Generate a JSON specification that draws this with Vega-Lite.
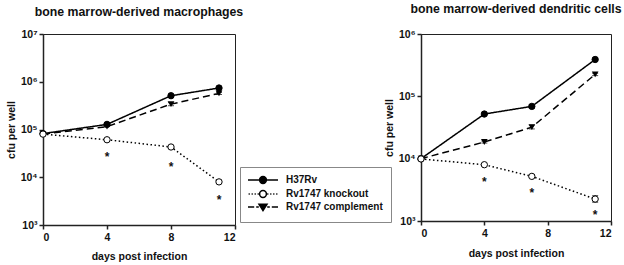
{
  "$schema": "https://vega.github.io/schema/vega-lite/v6.json",
  "padding": {"left": 5, "top": 2, "right": 3, "bottom": 2},
  "background": "white",
  "bounds": "flush",
  "spacing": 186,
  "resolve": {"legend": {"fill": "independent", "shape": "independent", "stroke": "independent"}},
  "config": {
    "font": "Liberation Sans",
    "view": {"stroke": "#222", "strokeWidth": 1},
    "axis": {
      "grid": false,
      "domainColor": "#222", "domainWidth": 1.5,
      "tickColor": "#222", "tickWidth": 1.5, "tickSize": 4,
      "labelFont": "Liberation Sans", "labelFontWeight": "bold", "labelColor": "#111", "labelFontSize": 10.5,
      "titleFont": "Liberation Sans", "titleFontWeight": "bold", "titleColor": "#111", "titleFontSize": 10.5
    },
    "title": {"font": "Liberation Sans", "fontWeight": "bold", "fontSize": 12.3, "color": "#111", "anchor": "middle"}
  },
  "datasets": {
    "growth": [
      {"panel": "macrophages", "series": "H37Rv", "day": 0, "value": 82000},
      {"panel": "macrophages", "series": "H37Rv", "day": 4, "value": 128000},
      {"panel": "macrophages", "series": "H37Rv", "day": 8, "value": 510000},
      {"panel": "macrophages", "series": "H37Rv", "day": 11, "value": 740000, "lo": 700000, "hi": 780000},
      {"panel": "macrophages", "series": "Rv1747 complement", "day": 0, "value": 80000},
      {"panel": "macrophages", "series": "Rv1747 complement", "day": 4, "value": 115000},
      {"panel": "macrophages", "series": "Rv1747 complement", "day": 8, "value": 340000, "lo": 315000, "hi": 365000},
      {"panel": "macrophages", "series": "Rv1747 complement", "day": 11, "value": 570000, "lo": 540000, "hi": 600000},
      {"panel": "macrophages", "series": "Rv1747 knockout", "day": 0, "value": 80000},
      {"panel": "macrophages", "series": "Rv1747 knockout", "day": 4, "value": 61000},
      {"panel": "macrophages", "series": "Rv1747 knockout", "day": 8, "value": 43000, "lo": 40000, "hi": 46000},
      {"panel": "macrophages", "series": "Rv1747 knockout", "day": 11, "value": 8000, "lo": 7400, "hi": 8700},
      {"panel": "dendritic", "series": "H37Rv", "day": 0, "value": 10000},
      {"panel": "dendritic", "series": "H37Rv", "day": 4, "value": 52000},
      {"panel": "dendritic", "series": "H37Rv", "day": 7, "value": 69000, "lo": 65000, "hi": 73000},
      {"panel": "dendritic", "series": "H37Rv", "day": 11, "value": 390000},
      {"panel": "dendritic", "series": "Rv1747 complement", "day": 0, "value": 10000},
      {"panel": "dendritic", "series": "Rv1747 complement", "day": 4, "value": 18500, "lo": 17800, "hi": 19200},
      {"panel": "dendritic", "series": "Rv1747 complement", "day": 7, "value": 32000, "lo": 30000, "hi": 34500},
      {"panel": "dendritic", "series": "Rv1747 complement", "day": 11, "value": 225000, "lo": 215000, "hi": 235000},
      {"panel": "dendritic", "series": "Rv1747 knockout", "day": 0, "value": 9900},
      {"panel": "dendritic", "series": "Rv1747 knockout", "day": 4, "value": 8000},
      {"panel": "dendritic", "series": "Rv1747 knockout", "day": 7, "value": 5200, "lo": 5000, "hi": 5450},
      {"panel": "dendritic", "series": "Rv1747 knockout", "day": 11, "value": 2250, "lo": 2000, "hi": 2550}
    ],
    "stars": [
      {"panel": "macrophages", "day": 4, "value": 31000},
      {"panel": "macrophages", "day": 8, "value": 18600},
      {"panel": "macrophages", "day": 11, "value": 3900},
      {"panel": "dendritic", "day": 4, "value": 4800},
      {"panel": "dendritic", "day": 7, "value": 3100},
      {"panel": "dendritic", "day": 11, "value": 1380}
    ]
  },
  "hconcat": [
    {
      "width": 192,
      "height": 191,
      "title": {"text": "bone marrow-derived macrophages", "offset": 11},
      "layer": [
        {
          "data": {"name": "growth"},
          "transform": [{"filter": "datum.panel === 'macrophages'"}],
          "mark": {"type": "line", "stroke": "black", "strokeWidth": 1.5},
          "encoding": {
            "x": {"field": "day", "type": "quantitative", "scale": {"domain": [0, 12], "nice": false},
                  "axis": {"values": [0, 2, 4, 6, 8, 10, 12], "title": "days post infection", "labelPadding": 3, "titlePadding": 9}},
            "y": {"field": "value", "type": "quantitative", "scale": {"type": "log", "domain": [1000, 10000000], "nice": false},
                  "axis": {"values": [1000, 10000, 100000, 1000000, 10000000], "title": "cfu per well",
                           "labelExpr": "'10' + ['⁰','¹','²','³','⁴','⁵','⁶','⁷'][round(log(datum.value)/LN10)]",
                           "minExtent": 22, "maxExtent": 22, "titlePadding": 5, "labelPadding": 2}},
            "strokeDash": {"field": "series", "type": "nominal",
                           "scale": {"domain": ["H37Rv", "Rv1747 complement", "Rv1747 knockout"], "range": [[1, 0], [7, 4], [1.5, 2.5]]},
                           "legend": null}
          }
        },
        {
          "data": {"name": "growth"},
          "transform": [{"filter": "datum.panel === 'macrophages' && isValid(datum.lo)"}],
          "mark": {"type": "errorbar", "ticks": {"size": 6}, "color": "black"},
          "encoding": {
            "x": {"field": "day", "type": "quantitative"},
            "y": {"field": "lo", "type": "quantitative", "title": "cfu per well"},
            "y2": {"field": "hi"}
          }
        },
        {
          "data": {"name": "growth"},
          "transform": [{"filter": "datum.panel === 'macrophages' && datum.series === 'H37Rv'"}],
          "mark": {"type": "point", "shape": "circle", "filled": true, "fill": "black", "stroke": "black", "strokeWidth": 1, "size": 40, "opacity": 1},
          "encoding": {
            "x": {"field": "day", "type": "quantitative"},
            "y": {"field": "value", "type": "quantitative"}
          }
        },
        {
          "data": {"name": "growth"},
          "transform": [{"filter": "datum.panel === 'macrophages' && datum.series === 'Rv1747 complement'"}],
          "mark": {"type": "point", "shape": "triangle-down", "filled": true, "color": "black", "size": 45, "opacity": 1},
          "encoding": {
            "x": {"field": "day", "type": "quantitative"},
            "y": {"field": "value", "type": "quantitative"}
          }
        },
        {
          "data": {"name": "growth"},
          "transform": [{"filter": "datum.panel === 'macrophages' && datum.series === 'Rv1747 knockout'"}],
          "mark": {"type": "point", "shape": "circle", "filled": true, "fill": "white", "stroke": "black", "strokeWidth": 1, "size": 40, "opacity": 1},
          "encoding": {
            "x": {"field": "day", "type": "quantitative"},
            "y": {"field": "value", "type": "quantitative"}
          }
        },
        {
          "data": {"name": "stars"},
          "transform": [{"filter": "datum.panel === 'macrophages'"}],
          "mark": {"type": "text", "text": "*", "fontSize": 12, "fontWeight": "bold", "baseline": "alphabetic", "dy": 7, "color": "#111"},
          "encoding": {
            "x": {"field": "day", "type": "quantitative"},
            "y": {"field": "value", "type": "quantitative"}
          }
        },
        {
          "data": {"name": "growth"},
          "transform": [{"filter": "false"}],
          "mark": {"type": "point", "filled": false, "color": "black", "strokeWidth": 1.5},
          "encoding": {
            "shape": {"field": "series", "type": "nominal",
                      "scale": {"domain": ["H37Rv", "Rv1747 knockout", "Rv1747 complement"],
                                "range": ["M-3.75,0H3.75M0.85,0A0.85,0.85,0,1,1,-0.85,0A0.85,0.85,0,1,1,0.85,0Z",
                                          "M-3.6,0H-3.3M-2.85,0H-2.55M-2.1,0H-1.8M-1.35,0H-1.05M1.05,0H1.35M1.8,0H2.1M2.55,0H2.85M3.3,0H3.6M0.85,0A0.85,0.85,0,1,1,-0.85,0A0.85,0.85,0,1,1,0.85,0Z",
                                          "M-3.75,0H-2.2M-1.7,0H-1.05M1.05,0H1.7M2.2,0H3.75M-1,-0.7L1,-0.7L0,0.9Z"]},
                      "legend": {"title": null, "orient": "none", "legendX": 197, "legendY": 133, "padding": 8,
                                 "strokeColor": "#888", "fillColor": "white",
                                 "labelFont": "Liberation Sans", "labelFontWeight": "bold", "labelFontSize": 10, "labelColor": "#111",
                                 "symbolSize": 64, "symbolOffset": 10, "labelOffset": 18, "rowPadding": 0,
                                 "symbolStrokeColor": "black", "symbolStrokeWidth": 1.5, "symbolOpacity": 1}},
            "fill": {"field": "series", "type": "nominal",
                     "scale": {"domain": ["H37Rv", "Rv1747 knockout", "Rv1747 complement"], "range": ["black", "white", "black"]},
                     "legend": {"title": null, "orient": "none", "legendX": 197, "legendY": 133, "padding": 8,
                                 "strokeColor": "#888", "fillColor": "white",
                                 "labelFont": "Liberation Sans", "labelFontWeight": "bold", "labelFontSize": 10, "labelColor": "#111",
                                 "symbolSize": 64, "symbolOffset": 10, "labelOffset": 18, "rowPadding": 0,
                                 "symbolStrokeColor": "black", "symbolStrokeWidth": 1.5, "symbolOpacity": 1}},
            "stroke": {"field": "series", "type": "nominal",
                       "scale": {"domain": ["H37Rv", "Rv1747 knockout", "Rv1747 complement"], "range": ["black", "black", "black"]},
                       "legend": {"title": null, "orient": "none", "legendX": 197, "legendY": 133, "padding": 8,
                                  "strokeColor": "#888", "fillColor": "white",
                                  "labelFont": "Liberation Sans", "labelFontWeight": "bold", "labelFontSize": 10, "labelColor": "#111",
                                  "symbolSize": 64, "symbolOffset": 10, "labelOffset": 18, "rowPadding": 0,
                                  "symbolStrokeColor": "black", "symbolStrokeWidth": 1.5, "symbolOpacity": 1}}
          }
        }
      ]
    },
    {
      "width": 190,
      "height": 187,
      "title": {"text": "bone marrow-derived dendritic cells", "offset": 14},
      "layer": [
        {
          "data": {"name": "growth"},
          "transform": [{"filter": "datum.panel === 'dendritic'"}],
          "mark": {"type": "line", "stroke": "black", "strokeWidth": 1.5},
          "encoding": {
            "x": {"field": "day", "type": "quantitative", "scale": {"domain": [0, 12], "nice": false},
                  "axis": {"values": [0, 2, 4, 6, 8, 10, 12], "title": "days post infection", "labelPadding": 3, "titlePadding": 10}},
            "y": {"field": "value", "type": "quantitative", "scale": {"type": "log", "domain": [1000, 1000000], "nice": false},
                  "axis": {"values": [1000, 10000, 100000, 1000000], "title": "cfu per well",
                           "labelExpr": "'10' + ['⁰','¹','²','³','⁴','⁵','⁶','⁷'][round(log(datum.value)/LN10)]",
                           "minExtent": 22, "maxExtent": 22, "titlePadding": 5, "labelPadding": 2}},
            "strokeDash": {"field": "series", "type": "nominal",
                           "scale": {"domain": ["H37Rv", "Rv1747 complement", "Rv1747 knockout"], "range": [[1, 0], [7, 4], [1.5, 2.5]]},
                           "legend": null}
          }
        },
        {
          "data": {"name": "growth"},
          "transform": [{"filter": "datum.panel === 'dendritic' && isValid(datum.lo)"}],
          "mark": {"type": "errorbar", "ticks": {"size": 6}, "color": "black"},
          "encoding": {
            "x": {"field": "day", "type": "quantitative"},
            "y": {"field": "lo", "type": "quantitative", "title": "cfu per well"},
            "y2": {"field": "hi"}
          }
        },
        {
          "data": {"name": "growth"},
          "transform": [{"filter": "datum.panel === 'dendritic' && datum.series === 'H37Rv'"}],
          "mark": {"type": "point", "shape": "circle", "filled": true, "fill": "black", "stroke": "black", "strokeWidth": 1, "size": 40, "opacity": 1},
          "encoding": {
            "x": {"field": "day", "type": "quantitative"},
            "y": {"field": "value", "type": "quantitative"}
          }
        },
        {
          "data": {"name": "growth"},
          "transform": [{"filter": "datum.panel === 'dendritic' && datum.series === 'Rv1747 complement'"}],
          "mark": {"type": "point", "shape": "triangle-down", "filled": true, "color": "black", "size": 45, "opacity": 1},
          "encoding": {
            "x": {"field": "day", "type": "quantitative"},
            "y": {"field": "value", "type": "quantitative"}
          }
        },
        {
          "data": {"name": "growth"},
          "transform": [{"filter": "datum.panel === 'dendritic' && datum.series === 'Rv1747 knockout'"}],
          "mark": {"type": "point", "shape": "circle", "filled": true, "fill": "white", "stroke": "black", "strokeWidth": 1, "size": 40, "opacity": 1},
          "encoding": {
            "x": {"field": "day", "type": "quantitative"},
            "y": {"field": "value", "type": "quantitative"}
          }
        },
        {
          "data": {"name": "stars"},
          "transform": [{"filter": "datum.panel === 'dendritic'"}],
          "mark": {"type": "text", "text": "*", "fontSize": 12, "fontWeight": "bold", "baseline": "alphabetic", "dy": 7, "color": "#111"},
          "encoding": {
            "x": {"field": "day", "type": "quantitative"},
            "y": {"field": "value", "type": "quantitative"}
          }
        }
      ]
    }
  ]
}
